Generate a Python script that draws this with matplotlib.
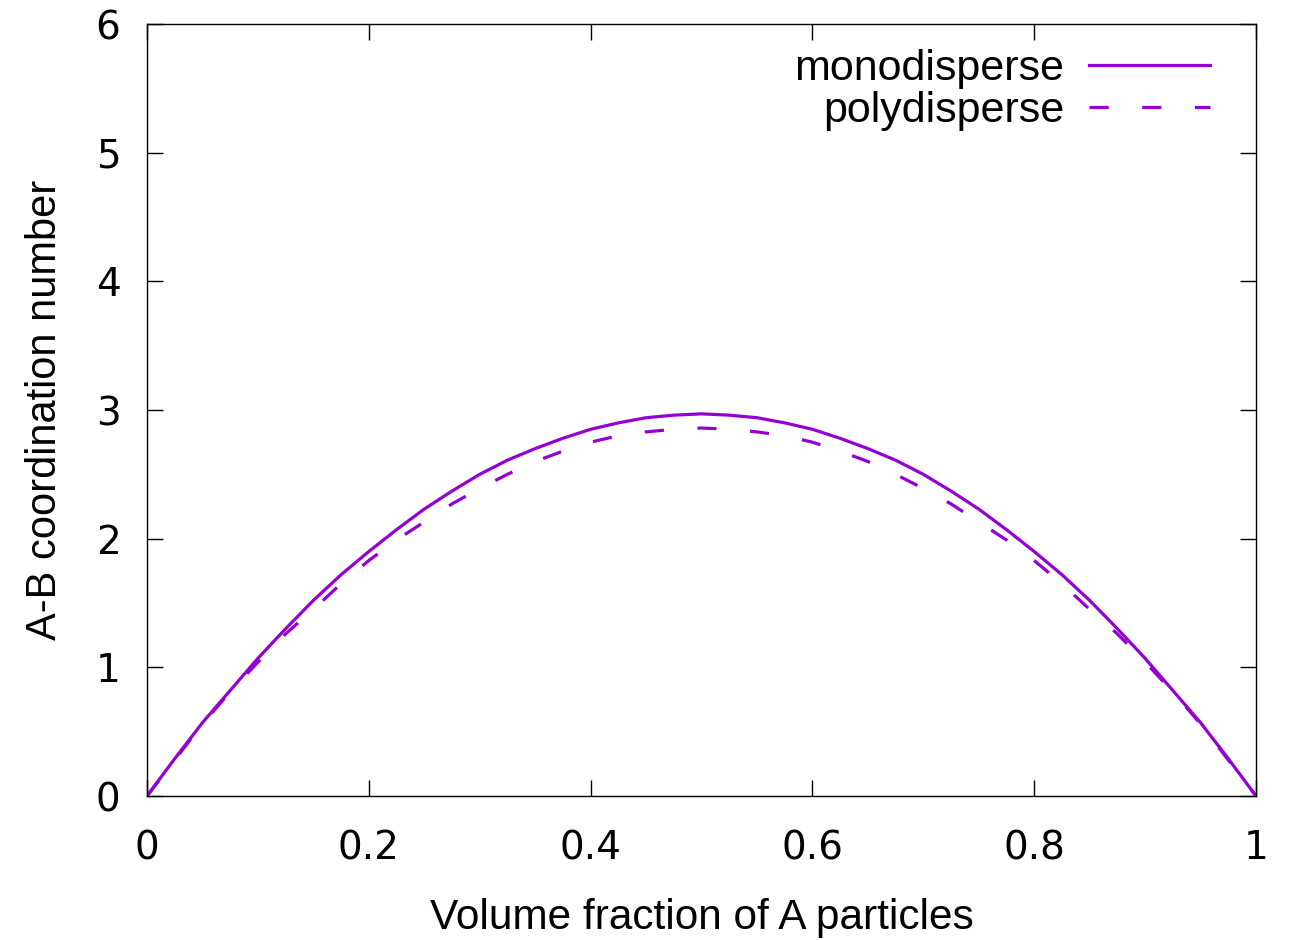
import matplotlib
matplotlib.use("Agg")
import matplotlib.pyplot as plt

# volume fraction of A particles
phi_a = [0.000, 0.025, 0.050, 0.075, 0.100, 0.125, 0.150, 0.175, 0.200, 0.225,
         0.250, 0.275, 0.300, 0.325, 0.350, 0.375, 0.400, 0.425, 0.450, 0.475,
         0.500, 0.525, 0.550, 0.575, 0.600, 0.625, 0.650, 0.675, 0.700, 0.725,
         0.750, 0.775, 0.800, 0.825, 0.850, 0.875, 0.900, 0.925, 0.950, 0.975,
         1.000]

# A-B coordination number
mono = [0.00, 0.29, 0.57, 0.82, 1.07, 1.30, 1.52, 1.72, 1.90, 2.07,
        2.23, 2.37, 2.50, 2.61, 2.70, 2.78, 2.85, 2.90, 2.94, 2.96,
        2.97, 2.96, 2.94, 2.90, 2.85, 2.78, 2.70, 2.61, 2.50, 2.37,
        2.23, 2.07, 1.90, 1.72, 1.52, 1.30, 1.07, 0.82, 0.57, 0.29,
        0.00]
poly = [0.00, 0.28, 0.56, 0.81, 1.04, 1.26, 1.45, 1.65, 1.83, 1.99,
        2.13, 2.27, 2.39, 2.50, 2.60, 2.68, 2.75, 2.80, 2.83, 2.85,
        2.86, 2.85, 2.83, 2.80, 2.75, 2.68, 2.60, 2.50, 2.39, 2.27,
        2.13, 1.99, 1.83, 1.65, 1.45, 1.26, 1.04, 0.81, 0.56, 0.28,
        0.00]

x_ticks = [0, 0.2, 0.4, 0.6, 0.8, 1]
x_tick_labels = ["0", "0.2", "0.4", "0.6", "0.8", "1"]
y_ticks = [0, 1, 2, 3, 4, 5, 6]

line_color = "#9400d3"

fig = plt.figure(figsize=(12.91, 9.40), dpi=100)
ax = fig.add_axes([147 / 1291, 1 - 796 / 940, 1109 / 1291, 772 / 940])

ax.plot(phi_a, mono, color=line_color, lw=2.3, label="monodisperse")
ax.plot(phi_a, poly, color=line_color, lw=2.3, dashes=(6.0, 10.5),
        label="polydisperse")

ax.set_xlim(0, 1)
ax.set_ylim(0, 6)
ax.set_xticks(x_ticks)
ax.set_xticklabels(x_tick_labels)
ax.set_yticks(y_ticks)

for spine in ax.spines.values():
    spine.set_linewidth(1.0)

ax.tick_params(direction="in", length=11.5, width=1.0, top=True, right=True,
               labelsize=28)
ax.tick_params(axis="x", pad=24)
ax.tick_params(axis="y", pad=19)
for lab in ax.get_xticklabels() + ax.get_yticklabels():
    lab.set_fontfamily("DejaVu Sans")

ax.set_xlabel("Volume fraction of A particles", fontsize=30.5,
              family="Liberation Sans", labelpad=22)
ax.set_ylabel("A-B coordination number", fontsize=30,
              family="Liberation Sans", labelpad=22)

ax.legend(loc="upper right", bbox_to_anchor=(0.9585, 0.968), frameon=False,
          markerfirst=False, handlelength=2.8, handletextpad=0.58,
          labelspacing=0.05, borderpad=0, borderaxespad=0,
          prop={"family": "Liberation Sans", "size": 31})

fig.savefig("out.png", dpi=100)
